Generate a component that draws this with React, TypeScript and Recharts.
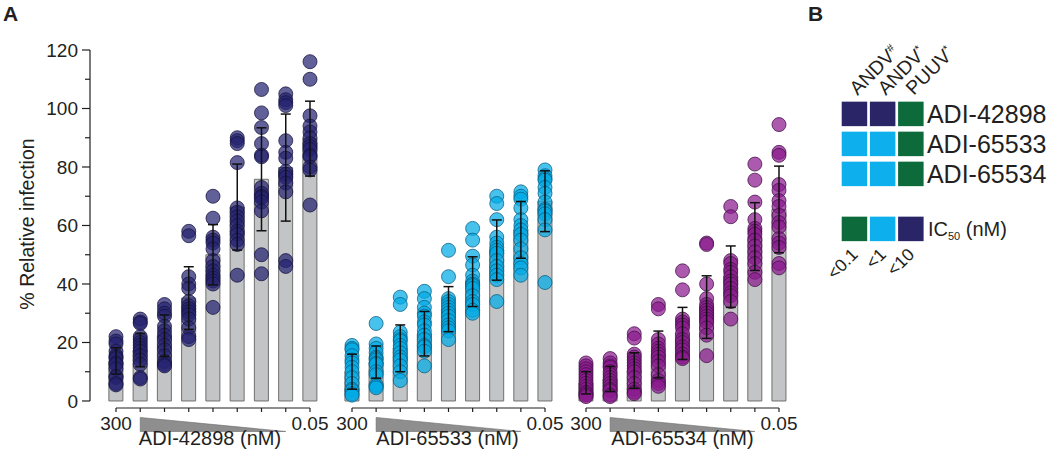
import {
  Bar,
  ComposedChart,
  ErrorBar,
  ReferenceArea,
  ReferenceLine,
  Scatter,
  ScatterChart,
  XAxis,
  YAxis,
} from "recharts"

const FONT = '"Liberation Sans", Arial, Helvetica, sans-serif'
const INK = "#231f20"

// dose series, 300 nM down to 0.05 nM
const doseSteps = [0, 1, 2, 3, 4, 5, 6, 7, 8]
const doseTicks = ["300", "", "", "", "", "", "", "", "0.05"]
const yTicks = [0, 10, 20, 30, 40, 50, 60, 70, 80, 90, 100, 110, 120]

const antibodies = ["ADI-42898", "ADI-65533", "ADI-65534"]

const mean42898 = [13.7, 17.4, 22.3, 35.2, 50, 66.3, 75.8, 79.8, 89.7]
const sd42898 = [4.5, 5.7, 7.1, 10.7, 10.3, 14.7, 17.6, 18.3, 12.8]
const pts42898 = [
  [22, 20.5, 19.5, 17, 15.5, 15, 14.5, 13, 12.5, 11, 8.5, 8, 6, 5.5],
  [28, 27, 26.5, 22, 21, 20, 19, 18, 17, 15.5, 14, 12.5, 8, 7.5],
  [33, 31.5, 30, 29, 25.5, 24, 22.5, 21, 19, 17.5, 15.5, 13.5, 12.5, 12],
  [58, 56.5, 42.5, 40, 38.5, 34, 32.5, 31.5, 30.5, 29.5, 28, 25, 22, 21],
  [70, 62.5, 56, 55, 54, 52, 48, 46, 44.5, 43, 42, 41, 40, 32],
  [90, 89, 88, 81.5, 66, 64.5, 63, 61.5, 60, 58, 57, 55, 53.5, 43],
  [106.5, 98.5, 93.5, 88, 84, 83.5, 73, 71, 70, 69.5, 68, 65, 50, 43.5],
  [105, 103, 102, 101, 89, 85, 83, 78.5, 77.5, 76.5, 74.5, 71.5, 48, 46],
  [116, 110, 97.5, 94, 92, 90, 88, 87, 86, 84, 83.5, 80, 79, 67],
]

const mean65533 = [10, 13.3, 18, 23, 31.4, 40.8, 51.6, 58.5, 68.3]
const sd65533 = [6, 5.5, 8, 7.6, 7.7, 8.5, 10.3, 9.7, 10.4]
const pts65533 = [
  [19, 18, 17.5, 15.5, 14, 13, 11.5, 10, 8, 6, 4, 3.5, 2.5, 2],
  [26.5, 19.5, 18, 16.5, 15, 14.5, 14, 13, 12.5, 10, 9, 5.5, 5, 4.5],
  [35.5, 33, 23.5, 22, 21, 20.5, 19, 18, 16.5, 15, 14, 12, 10, 7],
  [37.5, 35, 32, 30, 29, 27, 26, 24, 22.5, 21, 19, 18.5, 17, 12],
  [51.5, 42.5, 35, 34, 33, 32, 31, 30, 29, 27.5, 26, 25, 24, 21],
  [59, 55, 49.5, 46.5, 43, 41, 40, 39.5, 38.5, 36, 34, 33, 31, 30],
  [70, 67.5, 62, 56, 54, 52.5, 51.5, 50.5, 48, 46, 44.5, 43, 41.5, 34],
  [71.5, 70, 69, 66, 62, 60, 58.5, 57, 55, 52, 49, 47, 45.5, 43],
  [79, 77, 76, 75.5, 73, 71, 68, 65.5, 65, 64, 62, 58.5, 40.5],
]

const mean65534 = [6.2, 7.5, 10.4, 15.9, 23.1, 32.1, 42.5, 56.2, 65.5]
const sd65534 = [3.8, 4.3, 6.1, 8, 8.9, 10.7, 10.5, 11.6, 14.8]
const pts65534 = [
  [13, 12, 11, 10, 9, 8, 7, 6, 5, 4, 3, 2.5, 2, 1.5],
  [14.5, 13, 12, 11.5, 10, 9, 8, 7, 6, 5, 4, 3.5, 2, 1.5],
  [23, 21.5, 16, 15, 14, 13, 12, 11, 10, 8, 6, 4, 3, 2.5],
  [33, 31.5, 21, 19.5, 18, 17, 16, 15, 13.5, 12, 9, 7, 6, 5],
  [44.5, 38, 28, 27, 26, 25, 23, 21, 20, 18.5, 17.5, 16, 15, 14.5],
  [54, 53.5, 40, 35, 33, 32, 31, 30, 29, 28, 27, 25, 22.5, 15.5],
  [66.5, 63, 48, 47, 45, 44, 42.5, 41, 40, 38.5, 37, 36, 34, 28],
  [81, 75.5, 68, 62, 59, 58, 57, 55, 53, 51, 49, 47, 44, 41.5],
  [94.5, 85, 84, 74, 72, 68.5, 66.5, 63.5, 61, 59.5, 55.5, 54, 52.5, 47, 45.5],
]

// panel B: IC50 class per strain (index into ic50Bins)
const strainNames = ["ANDV", "ANDV", "PUUV"]
const strainMarks = ["#", "*", "*"]
const heatRows = [
  [2, 2, 0],
  [1, 1, 0],
  [1, 1, 0],
]
const ic50Bins = ["<0.1", "<1", "<10"]
const binColors = ["#0d6b3b", "#0db0ec", "#2a2566"]

const Y_W = 90

const YTick = (props: any) => {
  const { x, y, payload } = props
  const major = payload.value % 20 === 0
  return (
    <g>
      <line x1={x + 4 + (major ? 0 : 3)} x2={x + 12} y1={y} y2={y} stroke={INK} strokeWidth={1.2} />
      {major && (
        <text x={x} y={y} dy="0.35em" textAnchor="end" fontSize={19} fill={INK}>
          {payload.value}
        </text>
      )}
    </g>
  )
}

const Wedge = (p: any) => (
  <polygon
    points={`${p.x},${p.y} ${p.x},${p.y + p.height} ${p.x + p.width},${p.y + p.height}`}
    fill="#8e8e8e"
    stroke="#6a6a6a"
    strokeWidth={0.6}
  />
)

function DosePanel({ name, means, sds, points, dot, line, left, width, padL, padR, showY }: any) {
  const bars = means.map((m: number, i: number) => ({ x: doseSteps[i], y: m, sd: sds[i] }))
  const dots = points.flatMap((vals: number[], i: number) =>
    vals.map((v) => ({ x: doseSteps[i], y: v }))
  )
  const step = (width - (showY ? Y_W : 0) - padL - padR) / 8
  const edgeX = -padL / step
  return (
    <div style={{ position: "absolute", left, top: 0 }}>
      <ComposedChart
        width={width}
        height={460}
        data={bars}
        margin={{ top: 50, right: 0, bottom: 0, left: 0 }}
      >
        <XAxis
          type="number"
          dataKey="x"
          domain={[0, 8]}
          ticks={doseSteps}
          interval={0}
          padding={{ left: padL, right: padR }}
          axisLine={false}
          tickSize={4}
          tickMargin={4.5}
          tickLine={{ stroke: INK, strokeWidth: 1.2 }}
          tick={{ fontSize: 19, fill: INK }}
          tickFormatter={(v) => doseTicks[v]}
          height={52}
          label={{ value: `${name} (nM)`, position: "insideBottom", offset: 15.5, fontSize: 20, fill: INK }}
        />
        <YAxis
          type="number"
          dataKey="y"
          domain={[-2.4, 120]}
          hide={!showY}
          ticks={yTicks}
          interval={0}
          width={Y_W}
          axisLine={false}
          tickLine={false}
          tickSize={8}
          tickMargin={4}
          tick={(p: any) => <YTick {...p} />}
          label={{
            value: "% Relative infection",
            angle: -90,
            position: "center",
            dx: -17.5,
            dy: -5,
            fontSize: 19.5,
            fill: INK,
          }}
        />
        <Bar dataKey="y" barSize={14} fill="#c3c4c5" stroke="#6f6f6f" strokeWidth={1} isAnimationActive={false} />
        <Scatter
          data={dots}
          isAnimationActive={false}
          shape={(p: any) => (
            <circle cx={p.cx} cy={p.cy} r={7} fill={dot} fillOpacity={0.72} stroke={line} strokeOpacity={0.85} strokeWidth={0.9} />
          )}
        />
        <Scatter data={bars} isAnimationActive={false} zIndex={700} shape={() => <g />}>
          <ErrorBar dataKey="sd" direction="y" width={5} stroke="#111" strokeWidth={1.5} zIndex={700} />
        </Scatter>
        <ReferenceLine
          segment={[{ x: 0, y: -2.4 }, { x: 8, y: -2.4 }]}
          stroke={INK}
          strokeWidth={1.2}
          ifOverflow="visible"
        />
        {showY && (
          <ReferenceLine
            segment={[{ x: edgeX, y: 0 }, { x: edgeX, y: 120 }]}
            stroke={INK}
            strokeWidth={1.2}
            ifOverflow="visible"
          />
        )}
        <ReferenceArea x1={1} x2={7} y1={-5.64} y2={-10.43} shape={Wedge} ifOverflow="visible" />
      </ComposedChart>
    </div>
  )
}

const HeatSquare = (p: any) => (
  <rect x={p.cx - 12.75} y={p.cy - 12.25} width={25.5} height={24.5} fill={binColors[p.payload.bin]} />
)

const StrainTick = (p: any) => {
  const i = p.payload.value
  const x = p.x + 3
  return (
    <text x={x} y={p.y} transform={`rotate(-45 ${x} ${p.y})`} fontSize={19.5} fill={INK}>
      {strainNames[i]}
      <tspan dy={-7} fontSize={11}>
        {strainMarks[i]}
      </tspan>
    </text>
  )
}

const BinTick = (p: any) => {
  const x = p.x + 4.5
  return (
    <text x={x} y={p.y} transform={`rotate(-45 ${x} ${p.y})`} textAnchor="end" fontSize={17.5} fill={INK}>
      {ic50Bins[p.payload.value]}
    </text>
  )
}

const Ic50Tick = (p: any) => (
  <text x={p.x} y={p.y} dy="0.35em" fontSize={20} fill={INK}>
    IC
    <tspan dy={4} fontSize={11}>
      50
    </tspan>
    <tspan dy={-4}> (nM)</tspan>
  </text>
)

function HeatPanel() {
  const cells = heatRows.flatMap((row, r) => row.map((bin, c) => ({ x: c, y: r, bin })))
  const legend = ic50Bins.map((_, i) => ({ x: i, y: 0, bin: i }))
  return (
    <>
      <div style={{ position: "absolute", left: 820, top: 0 }}>
        <ScatterChart width={230} height={200} margin={{ top: 0, right: 0, bottom: 11.1, left: 20.35 }}>
          <XAxis
            type="number"
            dataKey="x"
            orientation="top"
            domain={[-0.5, 2.5]}
            ticks={[0, 1, 2]}
            interval={0}
            height={98.9}
            axisLine={false}
            tickLine={false}
            tickSize={0}
            tickMargin={3}
            tick={(p: any) => <StrainTick {...p} />}
          />
          <YAxis
            type="number"
            dataKey="y"
            orientation="right"
            domain={[-0.5, 2.5]}
            reversed
            ticks={[0, 1, 2]}
            interval={0}
            width={125.05}
            axisLine={false}
            tickLine={false}
            tickSize={0}
            tickMargin={2}
            tick={{ fontSize: 25, fill: INK }}
            tickFormatter={(i) => antibodies[i]}
          />
          <Scatter data={cells} shape={HeatSquare} isAnimationActive={false} />
        </ScatterChart>
      </div>
      <div style={{ position: "absolute", left: 800, top: 200 }}>
        <ScatterChart width={250} height={110} margin={{ top: 13.9, right: 0, bottom: 0, left: 40.35 }}>
          <XAxis
            type="number"
            dataKey="x"
            domain={[-0.5, 2.5]}
            ticks={[0, 1, 2]}
            interval={0}
            height={66.1}
            axisLine={false}
            tickLine={false}
            tickSize={0}
            tickMargin={11.8}
            tick={(p: any) => <BinTick {...p} />}
          />
          <YAxis
            type="number"
            dataKey="y"
            orientation="right"
            domain={[-0.5, 0.5]}
            ticks={[0]}
            interval={0}
            width={125.05}
            axisLine={false}
            tickLine={false}
            tickSize={0}
            tickMargin={3}
            tick={(p: any) => <Ic50Tick {...p} />}
          />
          <Scatter data={legend} shape={HeatSquare} isAnimationActive={false} />
        </ScatterChart>
      </div>
    </>
  )
}

const panelLabel = {
  position: "absolute" as const,
  top: 3,
  fontSize: 21,
  fontWeight: 700,
  lineHeight: "21px",
  color: INK,
}

export default function App() {
  return (
    <div
      style={{
        position: "absolute",
        left: 0,
        top: 0,
        width: 1050,
        height: 460,
        background: "#fff",
        fontFamily: FONT,
        overflow: "hidden",
      }}
    >
      <div style={{ ...panelLabel, left: 3 }}>A</div>
      <div style={{ ...panelLabel, left: 808 }}>B</div>
      <DosePanel
        name={antibodies[0]}
        means={mean42898}
        sds={sd42898}
        points={pts42898}
        dot="#262270"
        line="#16143f"
        left={0}
        width={330}
        padL={26}
        padR={20}
        showY
      />
      <DosePanel
        name={antibodies[1]}
        means={mean65533}
        sds={sd65533}
        points={pts65533}
        dot="#00abe6"
        line="#0a5f82"
        left={330}
        width={235}
        padL={22}
        padR={20}
      />
      <DosePanel
        name={antibodies[2]}
        means={mean65534}
        sds={sd65534}
        points={pts65534}
        dot="#8b1b8e"
        line="#43104a"
        left={565}
        width={235}
        padL={21}
        padR={21}
      />
      <HeatPanel />
    </div>
  )
}
